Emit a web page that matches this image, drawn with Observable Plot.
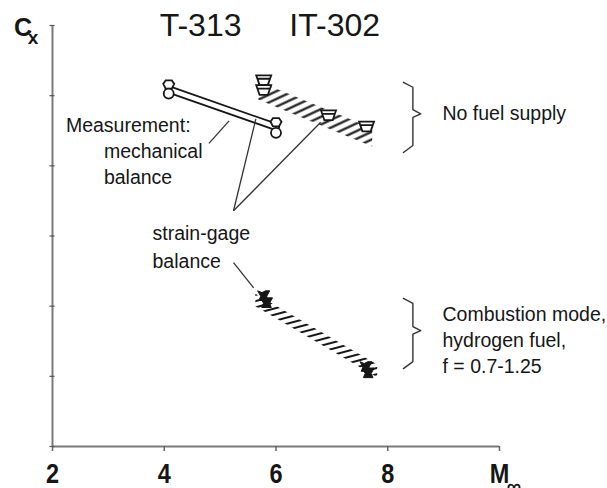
<!DOCTYPE html>
<html><head><meta charset="utf-8">
<script src="https://cdn.jsdelivr.net/npm/d3@7"></script>
<script src="https://cdn.jsdelivr.net/npm/@observablehq/plot@0.6"></script>
<style>
body{margin:0;background:#fff;}
#chart{width:607px;height:488px;overflow:hidden;}
</style></head><body><div id="chart"></div>
<script>
// ---- data (Mach number M∞ vs drag coefficient Cx, arbitrary tick units) ----
// T-313, mechanical balance
const mechMach = [4.08, 6.0];
const mechCircleCx = [5.03, 4.47];
const mechHexCx = [5.16, 4.62];
const mechBandCx = [5.09, 4.555];
// IT-302, strain-gage balance, no fuel supply
const noFuelMach = [5.78, 5.78, 6.94, 7.62];
const noFuelCx = [5.22, 5.08, 4.72, 4.56];
const noFuelBandMach = [5.69, 7.73];
const noFuelBandLow = [4.94, 4.27];
const noFuelBandHigh = [5.2, 4.53];
// IT-302, combustion mode, hydrogen fuel
const combMach = [5.78, 5.83, 7.61, 7.65];
const combCx = [2.15, 2.05, 1.14, 1.05];
const combBandMach = [5.64, 7.82];
const combBandLow = [1.99, 0.98];
const combBandHigh = [2.17, 1.16];
// axes
const xTicks = [2, 4, 6, 8, 10];
const yTicks = [0, 1, 2, 3, 4, 5, 6];
// titles
const titleText = ["T-313", "IT-302"];
const titleMach = [4.65, 7.05];
const titleCx = [5.855, 5.855];
// body labels
const labelText = ["Measurement:", "mechanical", "balance", "strain-gage", "balance",
  "No fuel supply", "Combustion mode,", "hydrogen fuel,", "f = 0.7-1.25"];
const labelMach = [2.24, 2.92, 2.92, 3.79, 3.79, 8.98, 8.98, 8.98, 8.98];
const labelCx = [4.487, 4.117, 3.746, 2.949, 2.55, 4.658, 1.795, 1.424, 1.054];
// leader lines
const leadMach1 = [4.80, 5.24, 5.24, 5.24];
const leadCx1 = [4.32, 3.36, 3.36, 2.62];
const leadMach2 = [5.16, 5.64, 6.80, 5.60];
const leadCx2 = [4.64, 4.67, 4.62, 2.26];
// braces: [start x, spine x, tip x] and [top, tip, bottom]
const braceMach = [8.28, 8.45, 8.59];
const braceNoFuel = [5.19, 4.74, 4.19];
const braceComb = [2.11, 1.65, 1.11];

// ---- helpers ----
function bracePoints(ys) {
  const [x0, x1, x2] = braceMach, [top, tip, bot] = ys;
  return [[x0, top], [x1, top - 0.07], [x1, tip + 0.06], [x2, tip], [x1, tip - 0.05], [x1, bot + 0.1], [x0, bot]];
}
const hexSym = {draw(c, size) {
  const r = Math.sqrt(size / Math.PI);
  c.moveTo(-0.55 * r, -0.75 * r); c.lineTo(0.55 * r, -0.75 * r); c.lineTo(r, -0.1 * r);
  c.lineTo(0.55 * r, 0.75 * r); c.lineTo(-0.55 * r, 0.75 * r); c.lineTo(-r, -0.1 * r); c.closePath();
}};
const cupSym = {draw(c, size) {
  const r = Math.sqrt(size / Math.PI);
  c.moveTo(-r, -0.65 * r); c.lineTo(r, -0.65 * r); c.lineTo(0.55 * r, 0.65 * r); c.lineTo(-0.55 * r, 0.65 * r); c.closePath();
  c.moveTo(-0.75 * r, -0.2 * r); c.lineTo(0.75 * r, -0.2 * r);
}};
const fillCupSym = {draw(c, size) {
  const r = Math.sqrt(size / Math.PI);
  c.moveTo(-r, -0.8 * r); c.lineTo(-0.3 * r, -0.5 * r); c.lineTo(0.3 * r, -0.8 * r); c.lineTo(r, -0.8 * r);
  c.lineTo(0.5 * r, 0.1 * r); c.lineTo(0.8 * r, 0.8 * r); c.lineTo(-0.8 * r, 0.8 * r); c.lineTo(-0.5 * r, 0.1 * r); c.closePath();
}};
const ink = "#161616";
const font = "'Liberation Sans', Arial, sans-serif";

const plot = Plot.plot({
  width: 607, height: 488,
  marginLeft: 52, marginRight: 108, marginTop: 25, marginBottom: 42,
  x: {domain: [2, 10]},
  y: {domain: [0, 6]},
  style: {fontFamily: font, background: "white", color: ink},
  marks: [
    Plot.ruleX([2], {y1: 0, y2: 6, stroke: "#7a7a7a", strokeWidth: 2}),
    Plot.ruleY([0], {x1: 2, x2: 10, stroke: "#7a7a7a", strokeWidth: 2}),
    Plot.axisY({ticks: yTicks, tickSize: 5, dx: 2.5, tickFormat: () => "", label: null, stroke: "#555", strokeWidth: 1.2}),
    Plot.axisX({ticks: xTicks, tickSize: 5, tickPadding: 12, label: null, stroke: "#666", strokeWidth: 1.5,
      tickFormat: d => d === 10 ? "M" : String(d), fontSize: 28, fontWeight: "bold", fill: ink}),
    Plot.text(["∞"], {x: [10.13], y: [-0.66], text: ["∞"], textAnchor: "start", lineAnchor: "bottom", fontSize: 20, fontWeight: "bold", fill: ink}),
    // hatched bands
    Plot.area(noFuelBandMach, {x1: noFuelBandMach, y1: noFuelBandLow, y2: noFuelBandHigh, fill: "url(#hatchA)"}),
    Plot.area(combBandMach, {x1: combBandMach, y1: combBandLow, y2: combBandHigh, fill: "url(#hatchB)"}),
    // mechanical balance double line
    Plot.line(mechMach, {x: mechMach, y: mechBandCx, stroke: ink, strokeWidth: 8}),
    Plot.line(mechMach, {x: mechMach, y: mechBandCx, stroke: "white", strokeWidth: 4.4}),
    // leader lines
    Plot.link(leadMach1, {x1: leadMach1, y1: leadCx1, x2: leadMach2, y2: leadCx2, stroke: "#333", strokeWidth: 1.3}),
    // braces
    Plot.line(bracePoints(braceNoFuel), {x: d => d[0], y: d => d[1], stroke: "#333", strokeWidth: 1.4}),
    Plot.line(bracePoints(braceComb), {x: d => d[0], y: d => d[1], stroke: "#333", strokeWidth: 1.4}),
    // markers
    Plot.dot(mechMach, {x: mechMach, y: mechHexCx, symbol: hexSym, r: 5.5, fill: "white", stroke: ink, strokeWidth: 1.8}),
    Plot.dot(mechMach, {x: mechMach, y: mechCircleCx, symbol: "circle", r: 5, fill: "white", stroke: ink, strokeWidth: 1.8}),
    Plot.dot(noFuelMach, {x: noFuelMach, y: noFuelCx, symbol: cupSym, r: 7.5, fill: "white", stroke: ink, strokeWidth: 1.8}),
    Plot.dot(combMach, {x: combMach, y: combCx, symbol: fillCupSym, r: 6, fill: ink, stroke: ink, strokeWidth: 1}),
    // texts
    Plot.text(titleText, {x: titleMach, y: titleCx, text: titleText, textAnchor: "middle", lineAnchor: "bottom", fontSize: 32, fill: ink, ariaLabel: "titles"}),
    Plot.text(["C"], {x: [1.31], y: [5.855], text: ["C"], textAnchor: "start", lineAnchor: "bottom", fontSize: 25, fontWeight: "bold", fill: ink, ariaLabel: "cx"}),
    Plot.text(["x"], {x: [1.558], y: [5.74], text: ["x"], textAnchor: "start", lineAnchor: "bottom", fontSize: 19, fontWeight: "bold", fill: ink, ariaLabel: "cx"}),
    Plot.text(labelText, {x: labelMach, y: labelCx, text: labelText, textAnchor: "start", lineAnchor: "bottom", fontSize: 19.5, fill: ink})
  ]
});

// hatch patterns
const defs = d3.select(plot).insert("defs", ":first-child");
const pa = defs.append("pattern").attr("id", "hatchA").attr("patternUnits", "userSpaceOnUse")
  .attr("width", 20).attr("height", 7).attr("patternTransform", "rotate(-25)");
pa.append("line").attr("x1", 0).attr("x2", 20).attr("y1", 3.5).attr("y2", 3.5).attr("stroke", ink).attr("stroke-width", 2.2);
const pb = defs.append("pattern").attr("id", "hatchB").attr("patternUnits", "userSpaceOnUse")
  .attr("width", 20).attr("height", 6).attr("patternTransform", "rotate(-15)");
pb.append("line").attr("x1", 0).attr("x2", 20).attr("y1", 3).attr("y2", 3).attr("stroke", ink).attr("stroke-width", 2);

// condensed lettering for titles, axis numbers and Cx
d3.select(plot).selectAll("g[aria-label='titles'] text, g[aria-label='cx'] text, g[aria-label='x-axis tick label'] text")
  .attr("transform", function () { return (this.getAttribute("transform") || "") + " scale(0.84,1)"; });

document.getElementById("chart").appendChild(plot);
</script>
</body></html>
